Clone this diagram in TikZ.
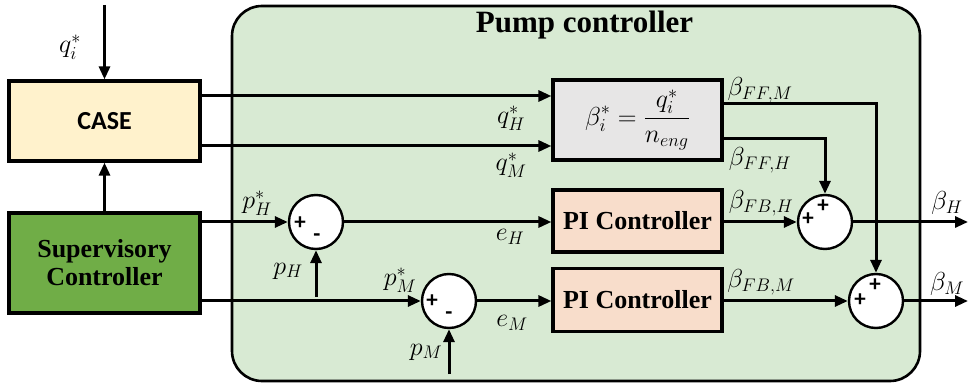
\documentclass[tikz,border=0pt]{standalone}
\usepackage{fix-cm}
\usepackage{fontspec}
\setmainfont{Liberation Serif}
\newfontfamily\calib{Carlito}
\usetikzlibrary{arrows.meta}
\definecolor{pumpbg}{RGB}{216,234,211}
\definecolor{casefill}{RGB}{255,242,204}
\definecolor{supfill}{RGB}{112,173,71}
\definecolor{formfill}{RGB}{231,230,230}
\definecolor{pifill}{RGB}{248,221,203}
\begin{document}
\begin{tikzpicture}[x=1pt,y=-1pt,line width=3pt,
  >={Triangle[length=13pt,width=11pt]},
  blk/.style={draw,line width=3.2pt,inner sep=0pt},
  sumc/.style={circle,draw,fill=white,line width=2.4pt,minimum size=54pt,inner sep=0pt},
  sgn/.style={font=\calib\bfseries\fontsize{23}{23}\selectfont,inner sep=0pt},
  lbl/.style={font=\fontsize{26}{30}\selectfont,inner sep=0pt},
  bigtxt/.style={font=\rmfamily\bfseries\fontsize{26}{30}\selectfont,align=center}]
\useasboundingbox (0,0) rectangle (969,387);
% container
\node[draw,fill=pumpbg,line width=2.6pt,rounded corners=30pt,minimum width=688pt,minimum height=375pt,inner sep=0pt] (pump) at (576,193.5) {};
\node[font=\rmfamily\bfseries\fontsize{31}{32}\selectfont,anchor=base,inner sep=0pt] (title) at (584.5,33) {Pump controller};
% blocks
\node[blk,fill=casefill,minimum width=191pt,minimum height=80pt,font=\calib\bfseries\fontsize{26}{30}\selectfont] (case) at (104.5,121) {CASE};
\node[blk,fill=supfill,minimum width=191pt,minimum height=100pt,bigtxt] (sup) at (104.5,263) {\rmfamily\bfseries Supervisory\\[-2pt]\rmfamily\bfseries Controller};
\node[blk,fill=formfill,minimum width=169pt,minimum height=80pt,lbl] (form) at (637.5,120) {$\displaystyle \beta_i^* = \frac{q_i^*}{n_{eng}}$};
\node[blk,fill=pifill,minimum width=169pt,minimum height=62pt,bigtxt] (piH) at (637.5,221) {PI Controller};
\node[blk,fill=pifill,minimum width=169pt,minimum height=63pt,bigtxt] (piM) at (637.5,300) {PI Controller};
% summing junctions
\node[sumc] (sumH) at (316,222) {};
\node[sumc] (sumM) at (449,301) {};
\node[sumc] (sumH2) at (825,222) {};
\node[sumc] (sumM2) at (876,301) {};
% free ends
\coordinate (qin) at (104.5,5);
\coordinate (pHin) at (316,297);
\coordinate (pMin) at (449,374);
\coordinate (outH) at (968,222);
\coordinate (outM) at (968,301);
% connectors
\draw[->] (qin) -- (case.north);
\draw[->] (sup.north) -- (case.south);
\draw[->] ([yshift=25pt]case.east) -- ([yshift=25pt]case.east -| form.west);
\draw[->] ([yshift=-25pt]case.east) -- ([yshift=-25pt]case.east -| form.west);
\draw[->] (sup.east |- sumH.west) -- (sumH.west);
\draw[->] (sup.east |- sumM.west) -- (sumM.west);
\draw[->] (pHin) -- (sumH.south);
\draw[->] (pMin) -- (sumM.south);
\draw[->] (sumH.east) -- (sumH.east -| piH.west);
\draw[->] (sumM.east) -- (sumM.east -| piM.west);
\draw[->] (piH.east |- sumH2.west) -- (sumH2.west);
\draw[->] (piM.east |- sumM2.west) -- (sumM2.west);
\draw[->] ([yshift=16pt]form.east) -| (sumM2.north);
\draw[->] ([yshift=-19pt]form.east) -| (sumH2.north);
\draw[->] (sumH2.east) -- (outH);
\draw[->] (sumM2.east) -- (outM);
% signs
\node[sgn] (sH1) at ([shift={(-16,1)}]sumH.center) {+};
\node[sgn] (sH2) at ([shift={(1,16)}]sumH.center) {-};
\node[sgn] (sM1) at ([shift={(-17,0)}]sumM.center) {+};
\node[sgn] (sM2) at ([shift={(0,15)}]sumM.center) {-};
\node[sgn] (sO1) at ([shift={(-17,-3)}]sumH2.center) {+};
\node[sgn] (sO2) at ([shift={(-2,-16)}]sumH2.center) {+};
\node[sgn] (sP1) at ([shift={(-16,-1)}]sumM2.center) {+};
\node[sgn] (sP2) at ([shift={(-1,-16)}]sumM2.center) {+};
% labels
\node[lbl] (lq) at (70,47) {$q_i^*$};
\node[lbl] (lpHs) at (257,203) {$p_H^*$};
\node[lbl] (lpH) at (288,271) {$p_H$};
\node[lbl] (lpMs) at (400,280) {$p_M^*$};
\node[lbl] (lpM) at (426,352) {$p_M$};
\node[lbl] (leH) at (510,237) {$e_H$};
\node[lbl] (leM) at (512,323) {$e_M$};
\node[lbl] (lqH) at (511,118) {$q_H^*$};
\node[lbl] (lqM) at (511,165) {$q_M^*$};
\node[lbl] (lbFFM) at (760,90) {$\beta_{FF,M}$};
\node[lbl] (lbFFH) at (760,160) {$\beta_{FF,H}$};
\node[lbl] (lbFBH) at (761,203) {$\beta_{FB,H}$};
\node[lbl] (lbFBM) at (761,282) {$\beta_{FB,M}$};
\node[lbl] (lbH) at (947,203) {$\beta_H$};
\node[lbl] (lbM) at (947,284) {$\beta_M$};
\end{tikzpicture}
\end{document}
